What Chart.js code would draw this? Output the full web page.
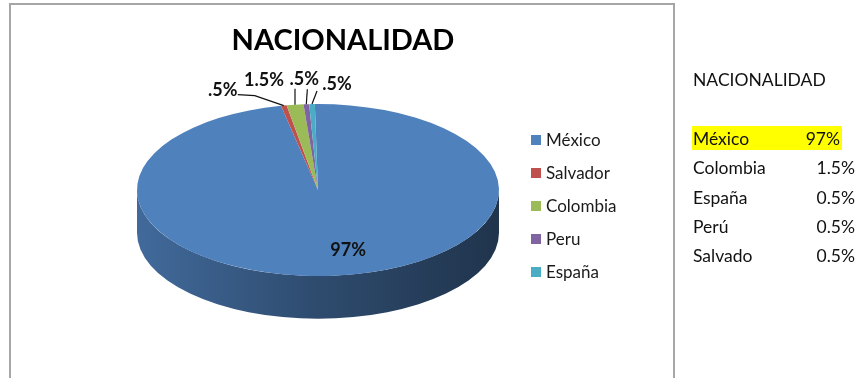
<!DOCTYPE html>
<html>
<head>
<meta charset="utf-8">
<script src="https://cdn.jsdelivr.net/npm/chart.js@4.4.1/dist/chart.umd.min.js"></script>
<style>
  html, body { margin: 0; padding: 0; background: #fff; }
  #wrap { position: relative; width: 858px; height: 378px; overflow: hidden; }
  #pie { position: absolute; left: 0; top: 0; }
  .cell { position: absolute; font-family: Lato, sans-serif; font-size: 17.5px; color: #111;
          line-height: 22px; white-space: nowrap; }
  .hl { position: absolute; background: #ffff00; }
</style>
</head>
<body>
<div id="wrap">
  <canvas id="pie" width="858" height="378"></canvas>
</div>
<script>
// ---- data ----
const categories = ['México', 'Salvador', 'Colombia', 'Peru', 'España'];
const shares = [97, 0.5, 1.5, 0.5, 0.5];
const sliceColors = ['#4f81bd', '#c0504d', '#9bbb59', '#8064a2', '#4bacc6'];
const chartTitle = 'NACIONALIDAD';

// summary list shown beside the chart (order and spelling as listed)
const listTitle = 'NACIONALIDAD';
const listNames = ['México', 'Colombia', 'España', 'Perú', 'Salvado'];
const listSource = [0, 2, 4, 3, 1];   // index into shares
const highlightedRow = 0;

// ---- formatting ----
const pieLabel = v => (v >= 1 ? String(v) : String(v).replace(/^0/, '')) + '%';
const listLabel = v => (Number.isInteger(v) ? String(v) : v.toFixed(1)) + '%';

function shade(hex, f) {
  const n = parseInt(hex.slice(1), 16);
  const r = (n >> 16) & 255, g = (n >> 8) & 255, b = n & 255;
  return `rgb(${Math.round(r * f)},${Math.round(g * f)},${Math.round(b * f)})`;
}

// tilted-disc look: vertical squash of the pie plus an extruded rim
const tilt = { centerY: 190, squash: 0.475, depth: 90 };

// label placement per slice: inside (fraction of radius) or outside with a leader line
const labelPlacement = [
  { at: 0.7, dx: 16, dy: 0 },
  { at: 1, dx: -61, dy: -15, lead: [[-46, -11], [-29, -10]] },
  { at: 1, dx: -31, dy: -25, lead: [[0, -16]] },
  { at: 1, dx: -2, dy: -25, lead: [[1, -15]] },
  { at: 1, dx: 25, dy: -20, lead: [[5, -13]] }
];

const FONT = 'Lato, "Open Sans", sans-serif';

const pie3d = {
  id: 'pie3d',
  beforeDraw(chart) {
    // chart frame
    const ctx = chart.ctx;
    ctx.save();
    ctx.strokeStyle = '#a6a6a6';
    ctx.lineWidth = 2;
    ctx.beginPath();
    ctx.moveTo(10, 400); ctx.lineTo(10, 4); ctx.lineTo(674, 4); ctx.lineTo(674, 400);
    ctx.stroke();
    ctx.restore();
  },
  beforeDatasetsDraw(chart) {
    const ctx = chart.ctx;
    const arcs = chart.getDatasetMeta(0).data;
    const { x: cx, y: cy, outerRadius: r } = arcs[0];
    const colors = chart.data.datasets[0].backgroundColor;
    ctx.save();
    ctx.translate(0, tilt.centerY);
    ctx.scale(1, tilt.squash);
    ctx.translate(0, -cy);
    arcs.forEach((arc, i) => {
      for (let k = -1; k <= 2; k++) {
        const lo = Math.max(arc.startAngle, 2 * Math.PI * k);
        const hi = Math.min(arc.endAngle, 2 * Math.PI * k + Math.PI);
        if (hi <= lo) continue;
        const g = ctx.createLinearGradient(cx - r, 0, cx + r, 0);
        g.addColorStop(0, shade(colors[i], 0.82));
        g.addColorStop(0.5, shade(colors[i], 0.58));
        g.addColorStop(1, shade(colors[i], 0.40));
        ctx.beginPath();
        ctx.arc(cx, cy, r, lo, hi);
        ctx.arc(cx, cy + tilt.depth, r, hi, lo, true);
        ctx.closePath();
        ctx.fillStyle = g;
        ctx.fill();
      }
    });
  },
  afterDatasetsDraw(chart) {
    chart.ctx.restore();
  },
  afterDraw(chart) {
    const ctx = chart.ctx;
    const arcs = chart.getDatasetMeta(0).data;
    const values = chart.data.datasets[0].data;
    const colors = chart.data.datasets[0].backgroundColor;
    const { x: cx, y: cy, outerRadius: r } = arcs[0];
    const toScreen = (a, f) => [cx + f * r * Math.cos(a), tilt.centerY + f * r * Math.sin(a) * tilt.squash];

    ctx.save();
    // data labels
    ctx.font = `bold 18px ${FONT}`;
    ctx.fillStyle = '#111';
    ctx.strokeStyle = '#111';
    ctx.lineWidth = 1.2;
    ctx.textAlign = 'center';
    ctx.textBaseline = 'middle';
    arcs.forEach((arc, i) => {
      const p = labelPlacement[i];
      const mid = (arc.startAngle + arc.endAngle) / 2;
      const [ax, ay] = toScreen(mid, p.at);
      if (p.lead) {
        ctx.beginPath();
        ctx.moveTo(ax + p.lead[0][0], ay + p.lead[0][1]);
        for (let j = 1; j < p.lead.length; j++) ctx.lineTo(ax + p.lead[j][0], ay + p.lead[j][1]);
        ctx.lineTo(ax, ay);
        ctx.stroke();
      }
      ctx.fillText(pieLabel(values[i]), ax + p.dx, ay + p.dy);
    });

    // title
    ctx.font = `bold 29px ${FONT}`;
    ctx.fillStyle = '#000';
    ctx.fillText(chartTitle, 343, 41);

    // legend
    ctx.font = `17px ${FONT}`;
    ctx.textAlign = 'left';
    chart.data.labels.forEach((lab, i) => {
      const y = 140 + i * 33;
      ctx.fillStyle = colors[i];
      ctx.fillRect(531, y - 5, 10, 10);
      ctx.fillStyle = '#1a1a1a';
      ctx.fillText(lab, 546, y + 1);
    });
    ctx.restore();
  }
};

new Chart(document.getElementById('pie'), {
  type: 'pie',
  data: {
    labels: categories,
    datasets: [{
      data: shares,
      backgroundColor: sliceColors,
      borderWidth: 0,
      clip: false
    }]
  },
  options: {
    responsive: false,
    animation: false,
    events: [],
    rotation: -1,
    layout: { padding: { left: 137, right: 359, top: 8, bottom: 8 } },
    plugins: { legend: { display: false }, title: { display: false }, tooltip: { enabled: false } }
  },
  plugins: [pie3d]
});

// summary list
(function buildList() {
  const wrap = document.getElementById('wrap');
  const add = (cls, text, css) => {
    const d = document.createElement('div');
    d.className = cls;
    if (text != null) d.textContent = text;
    Object.assign(d.style, css);
    wrap.appendChild(d);
    return d;
  };
  add('cell', listTitle, { left: '693px', top: '69px' });
  listNames.forEach((name, i) => {
    const top = 128 + i * 29.3;
    const hl = i === highlightedRow;
    if (hl) add('hl', null, { left: '692px', top: (top - 2) + 'px', width: '150px', height: '24px' });
    add('cell', name, { left: '693px', top: top + 'px' });
    add('cell', listLabel(shares[listSource[i]]), {
      right: (hl ? 858 - 840 : 858 - 855) + 'px', top: top + 'px', textAlign: 'right'
    });
  });
})();
</script>
</body>
</html>
